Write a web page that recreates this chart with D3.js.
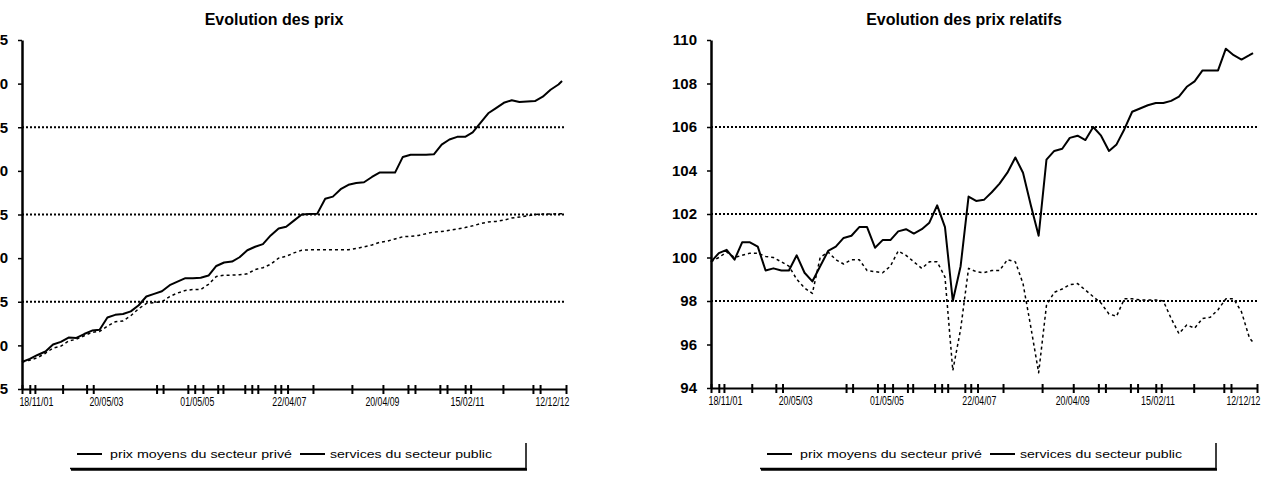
<!DOCTYPE html>
<html>
<head>
<meta charset="utf-8">
<script src="https://cdn.jsdelivr.net/npm/d3@7"></script>
<style>
  body { margin: 0; background: #fff; }
  svg { display: block; font-family: "Liberation Sans", Arial, sans-serif; }
</style>
</head>
<body>
<svg id="chart" width="1267" height="492"></svg>
<script>
// observation dates (every two months)
const dates = [
  "2001-08","2001-10","2001-12",
  "2002-02","2002-04","2002-06","2002-08","2002-10","2002-12",
  "2003-02","2003-04","2003-06","2003-08","2003-10","2003-12",
  "2004-02","2004-04","2004-06","2004-08","2004-10","2004-12",
  "2005-02","2005-04","2005-06","2005-08","2005-10","2005-12",
  "2006-02","2006-04","2006-06","2006-08","2006-10","2006-12",
  "2007-02","2007-04","2007-06","2007-08","2007-10","2007-12",
  "2008-02","2008-04","2008-06","2008-08","2008-10","2008-12",
  "2009-02","2009-04","2009-06","2009-08","2009-10","2009-12",
  "2010-02","2010-04","2010-06","2010-08","2010-10","2010-12",
  "2011-02","2011-04","2011-06","2011-08","2011-10","2011-12",
  "2012-02","2012-04","2012-06","2012-08","2012-10","2012-12",
  "2013-02","2013-03"
];

// Evolution des prix
const prixPrive = [
  98.1, 98.45, 98.9, 99.3, 100.1, 100.4, 100.9, 100.85, 101.3, 101.7,
  101.8, 103.2, 103.5, 103.6, 103.9, 104.6, 105.6, 105.9, 106.2, 106.9,
  107.3, 107.7, 107.7, 107.75, 108.0, 109.1, 109.5, 109.6, 110.1, 110.9,
  111.3, 111.6, 112.6, 113.4, 113.6, 114.3, 115.0, 115.05, 115.1, 116.8,
  117.05, 117.9, 118.4, 118.6, 118.7, 119.3, 119.8, 119.8, 119.8, 121.6,
  121.85, 121.85, 121.85, 121.9, 123.0, 123.6, 123.9, 123.9, 124.4, 125.5,
  126.6, 127.2, 127.8, 128.1, 127.9, 127.95, 128.0, 128.5, 129.3, 129.9,
  130.3
];
const prixPublic = [
  98.1, 98.3, 98.6, 99.1, 99.7, 99.9, 100.5, 100.7, 101.1, 101.5,
  101.6, 102.2, 102.7, 102.8, 103.4, 104.2, 104.8, 104.9, 105.0, 105.6,
  106.0, 106.3, 106.4, 106.4, 107.0, 107.9, 108.05, 108.05, 108.1, 108.2,
  108.7, 108.9, 109.3, 110.0, 110.2, 110.6, 110.9, 110.95, 110.95, 110.95,
  110.95, 110.95, 110.95, 111.1, 111.3, 111.5, 111.8, 111.95, 112.2, 112.45,
  112.5, 112.6, 112.8, 113.0, 113.05, 113.2, 113.35, 113.5, 113.7, 113.95,
  114.15, 114.2, 114.35, 114.6, 114.7, 114.85, 115.0, 115.05, 115.05, 115.1,
  115.1
];

// Evolution des prix relatifs
const relPrive = [
  99.8, 100.2, 100.35, 99.9, 100.7, 100.7, 100.5, 99.4, 99.5, 99.4,
  99.4, 100.1, 99.3, 98.9, 99.6, 100.3, 100.5, 100.9, 101.0, 101.4,
  101.4, 100.45, 100.8, 100.8, 101.2, 101.3, 101.1, 101.3, 101.6, 102.4,
  101.4, 98.0, 99.6, 102.8, 102.6, 102.65, 103.0, 103.4, 103.9, 104.6,
  103.9, 102.4, 101.0, 104.5, 104.9, 105.0, 105.5, 105.6, 105.4, 106.0,
  105.6, 104.9, 105.2, 105.9, 106.7, 106.85, 107.0, 107.1, 107.1, 107.2,
  107.4, 107.85, 108.1, 108.6, 108.6, 108.6, 109.6, 109.3, 109.1, 109.3,
  109.4
];
const relPublic = [
  99.8, 100.0, 100.25, 100.0, 100.1, 100.2, 100.2, 100.05, 100.0, 99.8,
  99.6, 99.0, 98.6, 98.35, 100.0, 100.25, 99.9, 99.7, 99.9, 99.9,
  99.4, 99.35, 99.3, 99.6, 100.3, 100.1, 99.8, 99.5, 99.8, 99.8,
  99.1, 94.8, 96.7, 99.5, 99.35, 99.3, 99.4, 99.4, 99.9, 99.8,
  98.8, 96.8, 94.7, 97.8, 98.4, 98.55, 98.75, 98.8, 98.5, 98.2,
  97.9, 97.4, 97.3, 98.1, 98.1, 98.05, 98.05, 98.05, 98.0, 97.2,
  96.5, 96.9, 96.75, 97.2, 97.25, 97.6, 98.1, 98.1, 97.5, 96.3,
  96.1
];

// x axis: tick marks and dated labels
const tickDates = [
  "2001-08-01","2001-10-01","2001-11-10","2002-06-15","2002-12-20","2003-02-10",
  "2004-06-20","2004-08-10","2005-02-20","2005-04-15","2005-06-18","2005-10-12",
  "2005-11-22","2006-05-12","2006-07-06","2006-08-22","2007-01-03","2007-02-18",
  "2007-04-12","2007-10-28","2008-08-28","2009-04-28","2009-11-10","2010-01-04",
  "2010-07-18","2010-09-12","2011-02-01","2011-03-16","2011-11-24","2012-07-16",
  "2012-09-10","2013-04-01"
];
const labelDates = ["2001-11-18","2003-05-20","2005-05-01","2007-04-22","2009-04-20","2011-02-15","2012-12-12"];

const prixTicks = [95, 100, 105, 110, 115, 120, 125, 130, 135];
const prixGrid = [105, 115, 125];
const relTicks = [94, 96, 98, 100, 102, 104, 106, 108, 110];
const relGrid = [98, 102, 106];

const titles = ["Evolution des prix", "Evolution des prix relatifs"];
const legendNames = ["prix moyens du secteur privé", "services du secteur public"];

const parseMonth = d3.timeParse("%Y-%m");
const parseDay = d3.timeParse("%Y-%m-%d");
const fmt = d3.timeFormat("%d/%m/%y");

const svg = d3.select("#chart");

function drawPanel(opt) {
  const g = svg.append("g");

  const x = d3.scaleTime()
    .domain([parseDay("2001-08-01"), parseDay("2013-04-01")])
    .range([opt.x0, opt.x1]);
  const y = d3.scaleLinear()
    .domain(d3.extent(opt.ticks))
    .range([opt.yBottom, opt.yTop]);

  // title
  g.append("text")
    .attr("x", (opt.x0 + opt.x1) / 2 - 20)
    .attr("y", 25)
    .attr("text-anchor", "middle")
    .attr("font-size", 16)
    .attr("font-weight", "bold")
    .text(opt.title);

  // dotted gridlines
  g.append("g").selectAll("line")
    .data(opt.grid)
    .join("line")
    .attr("x1", opt.x0).attr("x2", opt.x1)
    .attr("y1", d => y(d)).attr("y2", d => y(d))
    .attr("stroke", "#000")
    .attr("stroke-width", 1.8)
    .attr("stroke-dasharray", "2,2");

  // series
  const series = [
    { values: opt.solid, width: 2, dash: null },
    { values: opt.dotted, width: 1.5, dash: "3,3" }
  ];
  const line = d3.line()
    .x((d, i) => x(parseMonth(dates[i])))
    .y(d => y(d));
  g.selectAll("path.series")
    .data(series)
    .join("path")
    .attr("class", "series")
    .attr("fill", "none")
    .attr("stroke", "#000")
    .attr("stroke-width", d => d.width)
    .attr("stroke-dasharray", d => d.dash)
    .attr("stroke-linejoin", "round")
    .attr("d", d => line(d.values));

  // y axis (left panel labels run off the page edge, as in the original)
  const yAxis = g.append("g")
    .attr("transform", `translate(${opt.x0},0)`)
    .call(d3.axisLeft(y).tickValues(opt.ticks).tickSize(4).tickSizeOuter(0).tickPadding(10));
  yAxis.select(".domain").attr("stroke-width", 2.5);
  yAxis.selectAll(".tick line").attr("stroke-width", 1.5);
  yAxis.selectAll(".tick text")
    .attr("font-size", 15)
    .attr("font-weight", "bold")
    .attr("font-family", "Liberation Sans, Arial, sans-serif")
    .attr("fill", "#000");

  // x axis with crossing tick marks
  const xAxis = g.append("g")
    .attr("transform", `translate(0,${opt.yBottom})`)
    .call(d3.axisBottom(x).tickValues(tickDates.map(parseDay)).tickSizeOuter(0).tickFormat(""));
  xAxis.select(".domain").attr("stroke-width", 2);
  xAxis.selectAll(".tick line").attr("y1", -4).attr("y2", 5).attr("stroke-width", 2);

  const xLabels = g.append("g")
    .attr("transform", `translate(0,${opt.yBottom})`)
    .call(d3.axisBottom(x).tickValues(labelDates.map(parseDay)).tickSize(0).tickPadding(8).tickFormat(fmt));
  xLabels.select(".domain").remove();
  xLabels.selectAll(".tick text")
    .attr("font-size", 12)
    .attr("font-family", "Liberation Sans, Arial, sans-serif")
    .attr("textLength", 34)
    .attr("lengthAdjust", "spacingAndGlyphs")
    .attr("fill", "#000");

  // legend with shadowed frame
  const lg = g.append("g").attr("transform", `translate(${opt.legendX},443)`);
  lg.append("path")
    .attr("d", "M0,25.5 H456 V0")
    .attr("fill", "none")
    .attr("stroke", "#000")
    .attr("stroke-width", 1.5);
  lg.append("line")
    .attr("x1", 1).attr("x2", 457)
    .attr("y1", 26.5).attr("y2", 26.5)
    .attr("stroke", "#000").attr("stroke-width", 2.5);
  const items = [
    { name: legendNames[0], sx: 7, tx: 40, tw: 182 },
    { name: legendNames[1], sx: 230, tx: 260, tw: 162 }
  ];
  const it = lg.selectAll("g.item").data(items).join("g").attr("class", "item");
  it.append("line")
    .attr("x1", d => d.sx).attr("x2", d => d.sx + 25)
    .attr("y1", 11).attr("y2", 11)
    .attr("stroke", "#000").attr("stroke-width", 2);
  it.append("text")
    .attr("x", d => d.tx)
    .attr("y", 15)
    .attr("font-size", 11)
    .attr("textLength", d => d.tw)
    .attr("lengthAdjust", "spacingAndGlyphs")
    .text(d => d.name);
}

drawPanel({
  title: titles[0], x0: 22, x1: 566, yTop: 40, yBottom: 389,
  ticks: prixTicks, grid: prixGrid, solid: prixPrive, dotted: prixPublic, legendX: 70
});
drawPanel({
  title: titles[1], x0: 711, x1: 1257, yTop: 40, yBottom: 388,
  ticks: relTicks, grid: relGrid, solid: relPrive, dotted: relPublic, legendX: 760
});
</script>
</body>
</html>
